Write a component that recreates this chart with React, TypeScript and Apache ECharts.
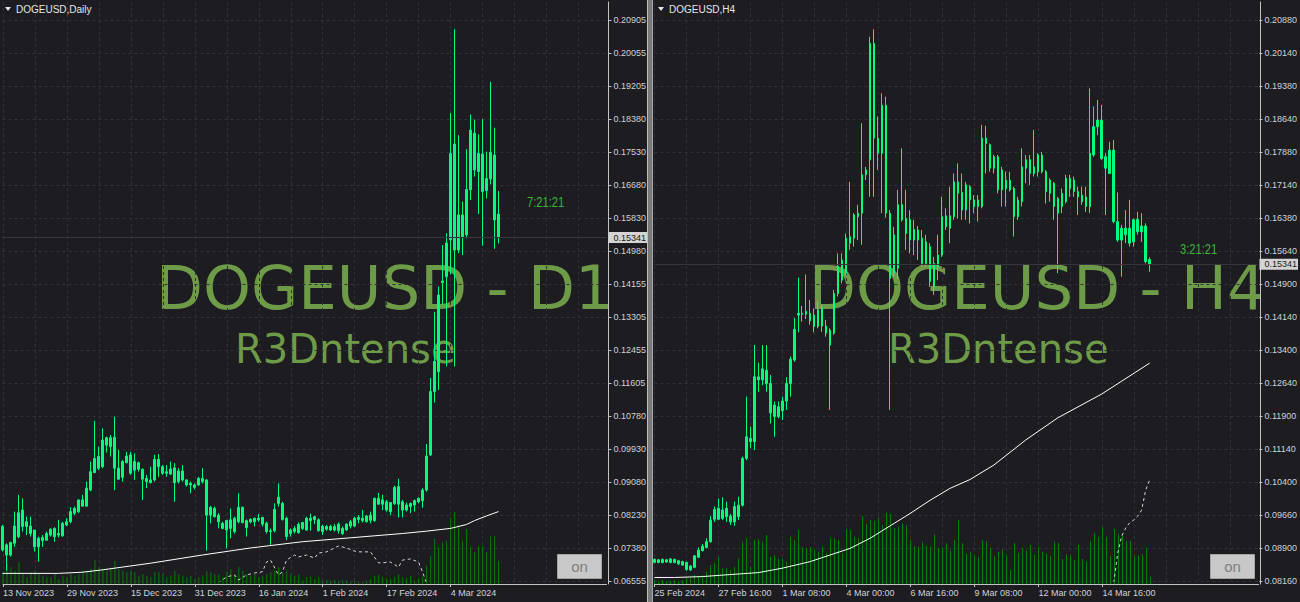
import React, { useEffect, useRef } from "react";
import * as echarts from "echarts";

const SLOT_COUNT = 152;

const dailyPriceTicks = ["0.06555","0.07380","0.08230","0.09080","0.09930","0.10780","0.11605","0.12455","0.13305","0.14155","0.14980","0.15830","0.16680","0.17530","0.18380","0.19205","0.20055","0.20905"];
const h4PriceTicks = ["0.08160","0.08900","0.09660","0.10400","0.11140","0.11900","0.12640","0.13400","0.14140","0.14900","0.15640","0.16380","0.17140","0.17880","0.18640","0.19380","0.20140","0.20880"];

const dailyTimeLabels = ["13 Nov 2023","29 Nov 2023","15 Dec 2023","31 Dec 2023","16 Jan 2024","1 Feb 2024","17 Feb 2024","4 Mar 2024"];
const h4TimeLabels = ["25 Feb 2024","27 Feb 16:00","1 Mar 08:00","4 Mar 00:00","6 Mar 16:00","9 Mar 08:00","12 Mar 00:00","14 Mar 16:00"];

// [open, close, low, high]
const dailyCandles = [
[.0735,.0795,.0731,.0799],[.0748,.0722,.0682,.0752],[.0722,.0754,.0718,.0756],[.0752,.0796,.0743,.0833],[.0769,.0830,.0765,.0876],
[.0837,.0795,.0782,.0867],[.0807,.0795,.0773,.0820],[.0796,.0777,.0769,.0820],[.0786,.0743,.0731,.0786],[.0743,.0765,.0705,.0769],
[.0759,.0767,.0743,.0773],[.0760,.0777,.0759,.0782],[.0773,.0788,.0769,.0790],[.0790,.0769,.0756,.0793],[.0773,.0777,.0767,.0812],
[.0771,.0803,.0769,.0807],[.0799,.0807,.0796,.0816],[.0807,.0833,.0803,.0844],[.0829,.0841,.0824,.0846],[.0833,.0863,.0829,.0864],
[.0863,.0847,.0846,.0876],[.0847,.0893,.0846,.0910],[.0888,.0935,.0885,.0961],[.0933,.0969,.0931,.1065],[.0974,.0944,.0939,.0999],
[.0948,.1016,.0944,.1046],[.1003,.1022,.0984,.1025],[.1022,.0999,.0974,.1029],[.1023,.0944,.0888,.1076],[.0944,.0916,.0914,.0991],
[.0921,.0961,.0910,.0965],[.0958,.0975,.0957,.0986],[.0978,.0931,.0927,.0986],[.0939,.0961,.0914,.0982],[.0958,.0941,.0935,.0961],
[.0941,.0916,.0863,.0944],[.0918,.0910,.0893,.0927],[.0907,.0914,.0905,.0948],[.0914,.0967,.0910,.0978],[.0967,.0948,.0922,.0980],
[.0948,.0931,.0927,.0952],[.0931,.0935,.0922,.0952],[.0929,.0942,.0927,.0961],[.0945,.0907,.0858,.0957],[.0910,.0937,.0905,.0944],
[.0937,.0914,.0910,.0952],[.0914,.0901,.0897,.0916],[.0901,.0905,.0880,.0910],[.0901,.0895,.0890,.0905],[.0901,.0918,.0899,.0922],
[.0918,.0910,.0905,.0944],[.0914,.0824,.0733,.0916],[.0824,.0844,.0803,.0847],[.0841,.0820,.0818,.0846],[.0824,.0807,.0790,.0829],
[.0803,.0790,.0788,.0807],[.0786,.0810,.0739,.0812],[.0812,.0790,.0765,.0841],[.0782,.0816,.0777,.0820],[.0807,.0844,.0803,.0880],
[.0844,.0805,.0803,.0846],[.0810,.0792,.0769,.0813],[.0807,.0813,.0803,.0816],[.0807,.0816,.0795,.0818],[.0816,.0812,.0807,.0827],
[.0818,.0801,.0795,.0820],[.0803,.0782,.0777,.0807],[.0782,.0784,.0748,.0790],[.0784,.0839,.0780,.0854],[.0854,.0870,.0846,.0905],
[.0854,.0813,.0810,.0858],[.0816,.0769,.0760,.0820],[.0777,.0786,.0769,.0790],[.0782,.0790,.0777,.0796],[.0779,.0800,.0777,.0805],
[.0790,.0805,.0786,.0807],[.0786,.0816,.0784,.0820],[.0816,.0810,.0784,.0828],[.0813,.0820,.0801,.0822],[.0812,.0784,.0782,.0816],
[.0796,.0782,.0773,.0799],[.0788,.0795,.0784,.0799],[.0795,.0786,.0784,.0799],[.0786,.0795,.0782,.0801],[.0801,.0784,.0777,.0805],
[.0777,.0790,.0773,.0795],[.0786,.0801,.0784,.0803],[.0796,.0807,.0790,.0812],[.0796,.0816,.0793,.0820],[.0813,.0818,.0803,.0824],
[.0816,.0810,.0805,.0837],[.0807,.0822,.0805,.0824],[.0811,.0824,.0803,.0833],[.0810,.0867,.0807,.0869],[.0852,.0867,.0850,.0881],
[.0863,.0852,.0837,.0876],[.0858,.0837,.0833,.0863],[.0833,.0856,.0824,.0857],[.0854,.0895,.0850,.0899],[.0897,.0852,.0818,.0917],
[.0858,.0837,.0818,.0863],[.0837,.0850,.0833,.0856],[.0846,.0854,.0829,.0856],[.0850,.0861,.0833,.0864],[.0858,.0867,.0854,.0869],
[.0861,.0888,.0843,.0893],[.0888,.0975,.0884,.1006],[.0978,.1140,.0975,.1175],[.1140,.1217,.1112,.1344],[.1191,.1387,.1144,.1409],
[.1419,.1423,.1362,.1515],[.1434,.1520,.1204,.1545],[.1528,.1749,.1440,.1852],[.1773,.1502,.1204,.2067],[.1502,.1592,.1494,.1796],
[.1592,.1536,.1489,.1626],[.1541,.1657,.1532,.1760],[.1656,.1809,.1630,.1849],[.1801,.1707,.1690,.1836],[.1703,.1749,.1594,.1798],
[.1748,.1652,.1513,.1837],[.1654,.1685,.1634,.1754],[.1684,.1752,.1670,.1933],[.1745,.1579,.1505,.1815],[.1594,.15341,.1519,.1653]
];

const h4Candles = [
[.0858,.0865,.0856,.0867],[.0864,.0858,.0856,.0866],[.0858,.0865,.0856,.0867],[.0864,.0859,.0857,.0866],[.0858,.0866,.0856,.0868],
[.0865,.0858,.0856,.0867],[.0862,.0855,.0852,.0864],[.0860,.0852,.0850,.0862],[.0858,.0842,.0839,.0860],[.0841,.0850,.0839,.0852],
[.0847,.0873,.0845,.0875],[.0870,.0886,.0868,.0892],[.0885,.0895,.0883,.0900],[.0892,.0905,.0890,.0913],[.0905,.0954,.0903,.0963],
[.0956,.0978,.0950,.0985],[.0956,.0981,.0954,.1003],[.0977,.0958,.0954,.1006],[.0962,.0981,.0950,.0996],[.0963,.0950,.0943,.0968],
[.0950,.0985,.0941,.0996],[.0962,.0988,.0954,.1007],[.0988,.1094,.0985,.1098],[.1094,.1143,.1090,.1234],[.1139,.1132,.1117,.1166],
[.1132,.1279,.1113,.1351],[.1279,.1272,.1245,.1311],[.1272,.1297,.1260,.1351],[.1294,.1264,.1245,.1351],[.1264,.1197,.1173,.1283],
[.1215,.1189,.1143,.1223],[.1189,.1211,.1185,.1223],[.1202,.1224,.1181,.1234],[.1224,.1264,.1204,.1278],[.1264,.1319,.1234,.1325],
[.1317,.1387,.1313,.1412],[.1419,.1423,.1380,.1504],[.1423,.1421,.1404,.1440],[.1421,.1427,.1410,.1511],[.1423,.1406,.1397,.1453],
[.1419,.1393,.1380,.1434],[.1393,.1431,.1389,.1449],[.1434,.1394,.1381,.1442],[.1394,.1378,.1370,.1408],[.1351,.1385,.1204,.1389],
[.1378,.1468,.1374,.1476],[.1468,.1529,.1461,.1559],[.1544,.1498,.1491,.1559],[.1514,.1593,.1510,.1604],[.1597,.1582,.1567,.1721],
[.1593,.1646,.1574,.1650],[.1642,.1650,.1589,.1669],[.1650,.1737,.1578,.1854],[.1737,.1748,.1725,.1755],[.1771,.2035,.1687,.2050],
[.2035,.1820,.1687,.2067],[.1820,.1786,.1748,.1869],[.1786,.1895,.1650,.1922],[.1895,.1650,.1640,.1914],[.1650,.1502,.1204,.1657],
[.1514,.1601,.1505,.1619],[.1525,.1669,.1502,.1703],[.1669,.1635,.1631,.1797],[.1638,.1604,.1567,.1703],[.1589,.1635,.1559,.1657],
[.1613,.1589,.1555,.1635],[.1589,.1612,.1544,.1621],[.1593,.1536,.1529,.1612],[.1536,.1585,.1529,.1601],[.1574,.1495,.1483,.1582],
[.1483,.1536,.1465,.1551],[.1529,.1555,.1498,.1601],[.1555,.1642,.1551,.1687],[.1644,.1619,.1612,.1661],[.1616,.1644,.1582,.1710],
[.1642,.1721,.1635,.1740],[.1721,.1695,.1638,.1763],[.1697,.1657,.1635,.1740],[.1657,.1714,.1635,.1721],[.1710,.1680,.1627,.1714],
[.1680,.1665,.1650,.1691],[.1680,.1665,.1631,.1691],[.1665,.1820,.1661,.1850],[.1820,.1808,.1740,.1848],[.1805,.1752,.1744,.1808],
[.1752,.1778,.1740,.1782],[.1778,.1703,.1695,.1782],[.1703,.1748,.1665,.1755],[.1725,.1706,.1665,.1744],[.1703,.1725,.1699,.1744],
[.1706,.1642,.1597,.1710],[.1642,.1680,.1635,.1687],[.1676,.1755,.1665,.1797],[.1752,.1771,.1718,.1782],[.1771,.1740,.1714,.1782],
[.1740,.1755,.1733,.1839],[.1744,.1782,.1733,.1786],[.1782,.1744,.1740,.1789],[.1744,.1699,.1672,.1748],[.1725,.1695,.1676,.1729],
[.1718,.1665,.1635,.1721],[.1650,.1684,.1514,.1687],[.1665,.1695,.1650,.1706],[.1676,.1729,.1672,.1737],[.1729,.1706,.1687,.1737],
[.1725,.1699,.1687,.1733],[.1699,.1687,.1646,.1710],[.1691,.1676,.1669,.1710],[.1687,.1665,.1653,.1710],[.1665,.1786,.1650,.1933],
[.1782,.1846,.1778,.1892],[.1846,.1861,.1827,.1907],[.1861,.1774,.1771,.1895],[.1778,.1752,.1646,.1786],[.1740,.1793,.1740,.1812],
[.1793,.1631,.1627,.1816],[.1631,.1589,.1585,.1697],[.1589,.1616,.1506,.1623],[.1616,.1601,.1582,.1657],[.1582,.1616,.1574,.1680],
[.1585,.1635,.1574,.1638],[.1636,.1608,.1601,.1653],[.1608,.1621,.1585,.1650],[.1621,.1540,.1536,.1627],[.1545,.15341,.1517,.1550]
];

const dailyVolume = [
1167,2000,1667,1333,2167,1000,667,1167,1333,1000,833,667,667,1000,500,833,667,1000,833,1000,
1333,1333,1500,2400,1667,1500,1333,1500,2333,1500,1333,1167,1333,1167,833,1000,833,667,1167,1167,
1000,667,833,1333,1000,833,667,833,500,667,833,1267,1167,1000,1000,667,1167,1500,1000,1733,
1333,1000,833,1000,667,833,1000,1167,1333,1667,1167,1333,1000,833,1000,333,667,733,500,667,
333,400,333,400,333,400,333,233,333,167,167,333,500,833,933,667,500,500,667,1000,
667,567,833,333,500,667,1833,2833,4500,3667,4167,4333,6667,7167,5933,4333,5500,3667,3167,3767,
3767,3167,4767,4767,2333
];

const h4Volume = [
400,233,400,233,333,400,233,400,733,567,900,733,900,1233,1900,2067,2733,1567,1567,1400,
1733,2567,4233,4567,1733,4400,4467,4233,4900,2733,2900,2567,2567,2233,4733,4400,5400,3733,3567,3733,
3400,3233,3733,3067,4567,4567,4400,3067,5467,5400,4733,4567,6800,6000,6400,6333,6667,5900,7133,7000,
5567,5733,6067,5900,4400,3800,3733,4233,3800,3733,4967,3567,3667,4067,3400,4400,6400,4067,3000,3167,
2900,2733,4400,4300,3633,2833,3233,3500,2900,1400,4133,3133,3633,3400,3900,2900,3733,3233,3000,2800,
4233,4133,2500,3000,2900,2400,3900,2500,2233,4333,5133,4733,5733,4733,2833,5500,5000,4900,4333,4333,
2833,2833,3000,3633,733
];

// [bar index, value]
const dailyMA = [[0,.0675],[14,.0675],[20,.0678],[25,.0684],[37,.0701],[50,.0722],[62,.0740],[75,.0756],[87,.0766],[100,.0777],[106,.0783],[112,.0790],[116,.0800],[118,.0810],[121,.0822],[124,.0833]];
const h4MA = [[0,.0824],[5,.0824],[12,.0826],[18,.0830],[26,.0835],[32,.0845],[39,.0860],[44,.0875],[49,.0890],[54,.0913],[59,.0941],[64,.0969],[69,.0999],[74,.1026],[79,.1046],[85,.1079],[93,.1136],[101,.1186],[112,.1240],[124,.1310]];
const dailySignal = [[54,.0650],[56,.0666],[58,.0671],[59,.0658],[61,.0671],[63,.0676],[65,.0679],[66,.0704],[67,.0709],[69,.0671],[70,.0679],[71,.0709],[73,.0722],[74,.0717],[76,.0722],[78,.0714],[79,.0727],[81,.0730],[83,.0740],[84,.0745],[86,.0740],[88,.0732],[89,.0730],[92,.0730],[94,.0702],[95,.0702],[97,.0704],[99,.0691],[100,.0709],[102,.0712],[104,.0704],[105,.0679],[106,.0650]];
const h4Signal = [[115,.0812],[116,.0879],[117,.0918],[118,.0936],[119,.0948],[120,.0954],[121,.0963],[122,.0977],[123,.1022],[124,.1045]];

const bidPrice = 0.15341;

const BG = "#1c1c21";
const CANDLE = "#00ff7f";
const VOL = "#008000";
const AXIS = "#c4c4c4";
const TEXT = "#cfd3d9";
const GRIDC = "#303037";
const FONT = '"Liberation Sans", Arial, sans-serif';
const WM = "#6e9b47";

const slots = Array.from({ length: SLOT_COUNT }, (_, i) => String(i));

type Panel = {
  left: number;
  ticks: string[];
  timeLabels: string[];
  candles: number[][];
  volume: number[];
  ma: number[][];
  signal: number[][];
};

function buildPanel(p: Panel, k: number) {
  const gF = 2 * k, gP = 2 * k + 1;
  const xF = 2 * k, xP = 2 * k + 1;
  const yV = 3 * k, yPrice = 3 * k + 1;
  const labelShown = (i: number) => i % 16 === 0 && i / 16 < p.timeLabels.length;
  const grid = [
    { left: p.left + 2.5, top: 2, width: 604, height: 582, show: false },
    { left: p.left + 2.5, top: 20, width: 604, height: 561, show: false },
  ];
  const xAxis = [
    {
      type: "category", gridIndex: gF, data: slots, boundaryGap: false,
      axisLine: { show: true, onZero: false, lineStyle: { color: AXIS, width: 1 } },
      axisTick: { show: true, length: 3, interval: (i: number) => labelShown(i), lineStyle: { color: AXIS } },
      axisLabel: {
        show: true, interval: (i: number) => labelShown(i),
        formatter: (v: string) => p.timeLabels[Number(v) / 16] ?? "",
        align: "left", margin: 4, color: TEXT, fontSize: 9, fontFamily: FONT,
      },
      splitLine: { show: true, interval: (i: number) => i % 8 === 0, lineStyle: { color: GRIDC, type: [3, 3], width: 1 } },
    },
    { type: "category", gridIndex: gP, data: slots, boundaryGap: false, show: false },
  ];
  const yAxis = [
    {
      type: "value", gridIndex: gF, min: 0, max: 58200, position: "right", offset: 2,
      axisLine: { show: true, lineStyle: { color: AXIS, width: 1 } },
      axisTick: { show: false }, axisLabel: { show: false }, splitLine: { show: false },
    },
    {
      type: "value", gridIndex: gP, min: Number(p.ticks[0]), max: Number(p.ticks[p.ticks.length - 1]),
      show: false, splitLine: { show: false },
    },
    {
      type: "category", gridIndex: gP, data: p.ticks, boundaryGap: false, position: "right", offset: 2,
      axisLine: { show: false },
      axisTick: { show: true, length: 3, lineStyle: { color: AXIS } },
      axisLabel: { show: true, interval: 0, margin: 5, color: TEXT, fontSize: 9, fontFamily: FONT },
      splitLine: { show: true, interval: 0, lineStyle: { color: GRIDC, type: [3, 3], width: 1 } },
    },
  ];
  const series = [
    {
      type: "bar", xAxisIndex: xF, yAxisIndex: yV, data: p.volume, barWidth: 1,
      itemStyle: { color: VOL }, z: 1, silent: true,
    },
    {
      type: "candlestick", xAxisIndex: xP, yAxisIndex: yPrice, data: p.candles, barWidth: 2, clip: false,
      itemStyle: { color: CANDLE, color0: CANDLE, borderColor: CANDLE, borderColor0: CANDLE, borderWidth: 1 },
      z: 3,
      markLine: {
        silent: true, symbol: "none", animation: false, precision: 5,
        lineStyle: { color: "#36363c", type: "solid", width: 1 },
        label: {
          show: true, position: "end", distance: 2, formatter: () => bidPrice.toFixed(5),
          color: "#1a1a1a", backgroundColor: "#d4d4d4", padding: [1, 1, 1, 5],
          fontSize: 9, fontFamily: FONT,
        },
        data: [{ yAxis: bidPrice }],
      },
    },
    {
      type: "line", xAxisIndex: xP, yAxisIndex: yPrice, data: p.ma, symbol: "none", showSymbol: false,
      lineStyle: { color: "#ffffff", width: 1 }, z: 4, silent: true,
    },
    {
      type: "line", xAxisIndex: xP, yAxisIndex: yPrice, data: p.signal, symbol: "none", showSymbol: false,
      lineStyle: { color: "#d8d8d8", width: 1, type: [3, 3] }, z: 4, silent: true,
    },
  ];
  return { grid, xAxis, yAxis, series };
}

function buildOption() {
  const a = buildPanel({ left: 0, ticks: dailyPriceTicks, timeLabels: dailyTimeLabels, candles: dailyCandles, volume: dailyVolume, ma: dailyMA, signal: dailySignal }, 0);
  const b = buildPanel({ left: 652, ticks: h4PriceTicks, timeLabels: h4TimeLabels, candles: h4Candles, volume: h4Volume, ma: h4MA, signal: h4Signal }, 1);

  const wm = (x: number, y: number, text: string, size: number) => ({
    type: "text", x, y, z: -10, silent: true,
    style: { text, fill: WM, font: `${size}px "DejaVu Sans"`, textVerticalAlign: "middle", textAlign: "left" },
  });
  const title = (x: number, text: string) => [
    { type: "polygon", z: 10, shape: { points: [[x, 7], [x + 6, 7], [x + 3, 11]] }, style: { fill: "#e6e6e6" } },
    { type: "text", z: 10, x: x + 11, y: 9.5, style: { text, fill: "#e6e6e6", font: `10px ${FONT}`, textVerticalAlign: "middle" } },
  ];
  const timer = (x: number, y: number, text: string) => ({
    type: "text", z: 10, x, y, scaleX: 0.8,
    style: { text, fill: "#3cb43c", font: `14px ${FONT}`, textVerticalAlign: "middle" },
  });
  const button = (x: number) => [
    { type: "rect", z: 10, shape: { x: x + 0.5, y: 554.5, width: 44, height: 24 }, style: { fill: "#c8c8c8", stroke: "#a4a4a4", lineWidth: 1 } },
    { type: "text", z: 11, x: x + 22.5, y: 566.5, style: { text: "on", fill: "#808080", font: `15px ${FONT}`, textAlign: "center", textVerticalAlign: "middle" } },
  ];

  const graphic = [
    wm(156, 287, "DOGEUSD - D1", 61),
    wm(235, 349, "R3Dntense", 40),
    wm(809, 287, "DOGEUSD - H4", 61),
    wm(888, 349, "R3Dntense", 40),
    // cover axis label areas so the watermark stays inside the plot
    { type: "rect", z: -5, silent: true, shape: { x: 609, y: 0, width: 38, height: 602 }, style: { fill: BG } },
    { type: "rect", z: -5, silent: true, shape: { x: 1261, y: 0, width: 39, height: 602 }, style: { fill: BG } },
    // separator between the two chart windows
    { type: "rect", z: 5, shape: { x: 647, y: 0, width: 1, height: 602 }, style: { fill: "#bdbdbd" } },
    { type: "rect", z: 5, shape: { x: 648, y: 0, width: 4, height: 602 }, style: { fill: "#7a7a7a" } },
    { type: "rect", z: 5, shape: { x: 652, y: 0, width: 1, height: 602 }, style: { fill: "#a8a8a8" } },
    ...title(5, "DOGEUSD,Daily"),
    ...title(658, "DOGEUSD,H4"),
    timer(527, 203, "7:21:21"),
    timer(1180, 250, "3:21:21"),
    ...button(557),
    ...button(1210),
  ];

  return {
    animation: false,
    backgroundColor: BG,
    grid: [...a.grid, ...b.grid],
    xAxis: [...a.xAxis, ...b.xAxis],
    yAxis: [...a.yAxis, ...b.yAxis],
    series: [...a.series, ...b.series],
    graphic,
  };
}

export default function App() {
  const ref = useRef<HTMLDivElement>(null);
  useEffect(() => {
    document.body.style.margin = "0";
    const chart = echarts.init(ref.current as HTMLDivElement, null, { renderer: "svg", width: 1300, height: 602 });
    chart.setOption(buildOption() as any);
    return () => chart.dispose();
  }, []);
  return <div ref={ref} style={{ position: "fixed", left: 0, top: 0, width: 1300, height: 602, background: BG }} />;
}
